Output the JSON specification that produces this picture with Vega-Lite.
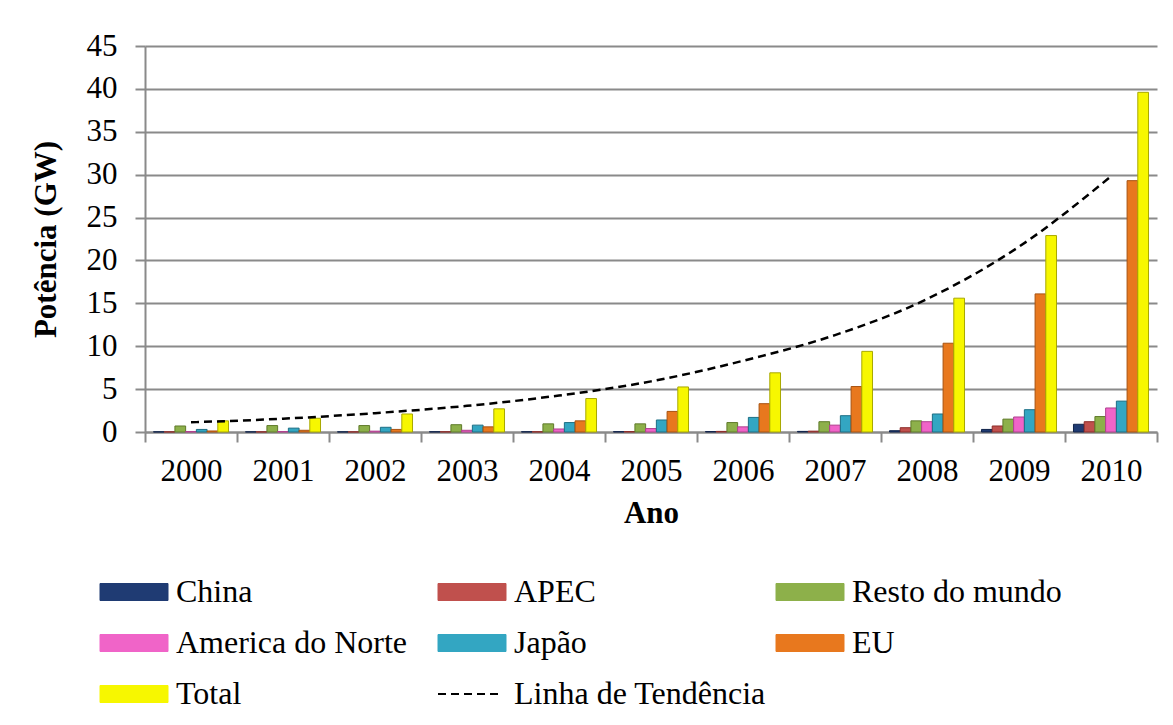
{
  "$schema": "https://vega.github.io/schema/vega-lite/v6.json",
  "width": 1012,
  "height": 386,
  "autosize": {"type": "none"},
  "padding": {"left": 145, "top": 46, "right": 16, "bottom": 293},
  "background": "white",
  "config": {
    "font": "Liberation Serif",
    "view": {"stroke": null},
    "style": {
      "guide-label": {"font": "Liberation Serif", "fill": "black"},
      "guide-title": {"font": "Liberation Serif", "fill": "black"}
    },
    "axis": {
      "labelFont": "Liberation Serif",
      "labelFontSize": 31,
      "labelColor": "black",
      "titleFont": "Liberation Serif",
      "titleFontSize": 31,
      "titleFontWeight": "bold",
      "titleColor": "black",
      "domainColor": "#8a8a8a",
      "domainWidth": 2,
      "tickColor": "#8a8a8a",
      "tickWidth": 2,
      "gridColor": "#8a8a8a",
      "gridWidth": 2
    }
  },
  "datasets": {
    "bars": [
      {"ano": "2000", "serie": "China", "valor": 0.02},
      {"ano": "2000", "serie": "APEC", "valor": 0.02},
      {"ano": "2000", "serie": "Resto do mundo", "valor": 0.7},
      {"ano": "2000", "serie": "America do Norte", "valor": 0.05},
      {"ano": "2000", "serie": "Japão", "valor": 0.3},
      {"ano": "2000", "serie": "EU", "valor": 0.12},
      {"ano": "2000", "serie": "Total", "valor": 1.3},
      {"ano": "2001", "serie": "China", "valor": 0.02},
      {"ano": "2001", "serie": "APEC", "valor": 0.02},
      {"ano": "2001", "serie": "Resto do mundo", "valor": 0.75},
      {"ano": "2001", "serie": "America do Norte", "valor": 0.05},
      {"ano": "2001", "serie": "Japão", "valor": 0.45},
      {"ano": "2001", "serie": "EU", "valor": 0.2},
      {"ano": "2001", "serie": "Total", "valor": 1.6},
      {"ano": "2002", "serie": "China", "valor": 0.02},
      {"ano": "2002", "serie": "APEC", "valor": 0.02},
      {"ano": "2002", "serie": "Resto do mundo", "valor": 0.75},
      {"ano": "2002", "serie": "America do Norte", "valor": 0.1},
      {"ano": "2002", "serie": "Japão", "valor": 0.55},
      {"ano": "2002", "serie": "EU", "valor": 0.3},
      {"ano": "2002", "serie": "Total", "valor": 2.1},
      {"ano": "2003", "serie": "China", "valor": 0.03},
      {"ano": "2003", "serie": "APEC", "valor": 0.03},
      {"ano": "2003", "serie": "Resto do mundo", "valor": 0.85},
      {"ano": "2003", "serie": "America do Norte", "valor": 0.2},
      {"ano": "2003", "serie": "Japão", "valor": 0.8},
      {"ano": "2003", "serie": "EU", "valor": 0.6},
      {"ano": "2003", "serie": "Total", "valor": 2.7},
      {"ano": "2004", "serie": "China", "valor": 0.03},
      {"ano": "2004", "serie": "APEC", "valor": 0.03},
      {"ano": "2004", "serie": "Resto do mundo", "valor": 0.95},
      {"ano": "2004", "serie": "America do Norte", "valor": 0.35},
      {"ano": "2004", "serie": "Japão", "valor": 1.1},
      {"ano": "2004", "serie": "EU", "valor": 1.3},
      {"ano": "2004", "serie": "Total", "valor": 3.9},
      {"ano": "2005", "serie": "China", "valor": 0.04},
      {"ano": "2005", "serie": "APEC", "valor": 0.05},
      {"ano": "2005", "serie": "Resto do mundo", "valor": 0.95},
      {"ano": "2005", "serie": "America do Norte", "valor": 0.4},
      {"ano": "2005", "serie": "Japão", "valor": 1.4},
      {"ano": "2005", "serie": "EU", "valor": 2.4},
      {"ano": "2005", "serie": "Total", "valor": 5.25},
      {"ano": "2006", "serie": "China", "valor": 0.05},
      {"ano": "2006", "serie": "APEC", "valor": 0.07},
      {"ano": "2006", "serie": "Resto do mundo", "valor": 1.1},
      {"ano": "2006", "serie": "America do Norte", "valor": 0.6},
      {"ano": "2006", "serie": "Japão", "valor": 1.7},
      {"ano": "2006", "serie": "EU", "valor": 3.3},
      {"ano": "2006", "serie": "Total", "valor": 6.9},
      {"ano": "2007", "serie": "China", "valor": 0.07},
      {"ano": "2007", "serie": "APEC", "valor": 0.1},
      {"ano": "2007", "serie": "Resto do mundo", "valor": 1.2},
      {"ano": "2007", "serie": "America do Norte", "valor": 0.8},
      {"ano": "2007", "serie": "Japão", "valor": 1.9},
      {"ano": "2007", "serie": "EU", "valor": 5.3},
      {"ano": "2007", "serie": "Total", "valor": 9.4},
      {"ano": "2008", "serie": "China", "valor": 0.15},
      {"ano": "2008", "serie": "APEC", "valor": 0.5},
      {"ano": "2008", "serie": "Resto do mundo", "valor": 1.3},
      {"ano": "2008", "serie": "America do Norte", "valor": 1.2},
      {"ano": "2008", "serie": "Japão", "valor": 2.1},
      {"ano": "2008", "serie": "EU", "valor": 10.35},
      {"ano": "2008", "serie": "Total", "valor": 15.6},
      {"ano": "2009", "serie": "China", "valor": 0.3},
      {"ano": "2009", "serie": "APEC", "valor": 0.7},
      {"ano": "2009", "serie": "Resto do mundo", "valor": 1.5},
      {"ano": "2009", "serie": "America do Norte", "valor": 1.75},
      {"ano": "2009", "serie": "Japão", "valor": 2.6},
      {"ano": "2009", "serie": "EU", "valor": 16.1},
      {"ano": "2009", "serie": "Total", "valor": 22.9},
      {"ano": "2010", "serie": "China", "valor": 0.9},
      {"ano": "2010", "serie": "APEC", "valor": 1.2},
      {"ano": "2010", "serie": "Resto do mundo", "valor": 1.8},
      {"ano": "2010", "serie": "America do Norte", "valor": 2.8},
      {"ano": "2010", "serie": "Japão", "valor": 3.6},
      {"ano": "2010", "serie": "EU", "valor": 29.3},
      {"ano": "2010", "serie": "Total", "valor": 39.6}
    ],
    "trend": [
      {"ano": "2000", "serie": "Linha de Tendência", "valor": 1.13},
      {"ano": "2001", "serie": "Linha de Tendência", "valor": 1.55},
      {"ano": "2002", "serie": "Linha de Tendência", "valor": 2.2},
      {"ano": "2003", "serie": "Linha de Tendência", "valor": 3.05},
      {"ano": "2004", "serie": "Linha de Tendência", "valor": 4.25},
      {"ano": "2005", "serie": "Linha de Tendência", "valor": 5.9},
      {"ano": "2006", "serie": "Linha de Tendência", "valor": 8.3},
      {"ano": "2007", "serie": "Linha de Tendência", "valor": 11.3},
      {"ano": "2008", "serie": "Linha de Tendência", "valor": 15.5},
      {"ano": "2009", "serie": "Linha de Tendência", "valor": 21.6},
      {"ano": "2010", "serie": "Linha de Tendência", "valor": 29.8}
    ]
  },
  "layer": [
    {
      "data": {"name": "bars"},
      "mark": {"type": "bar", "strokeWidth": 1},
      "encoding": {
        "x": {
          "field": "ano",
          "type": "nominal",
          "scale": {"paddingInner": 0, "paddingOuter": 0},
          "axis": {
            "title": "Ano",
            "labelAngle": 0,
            "labelFont": "Liberation Serif",
            "titleFont": "Liberation Serif",
            "labelFontSize": 31,
            "titleFontSize": 31,
            "tickBand": "extent",
            "tickSize": 10,
            "labelPadding": 14,
            "titlePadding": 12
          }
        },
        "xOffset": {
          "field": "serie",
          "type": "nominal",
          "scale": {
            "domain": ["China", "APEC", "Resto do mundo", "America do Norte", "Japão", "EU", "Total"],
            "paddingInner": 0,
            "paddingOuter": 0.79
          }
        },
        "y": {
          "field": "valor",
          "type": "quantitative",
          "scale": {"domain": [0, 45], "nice": false},
          "axis": {
            "title": "Potência (GW)",
            "labelFont": "Liberation Serif",
            "titleFont": "Liberation Serif",
            "labelFontSize": 31,
            "titleFontSize": 31,
            "values": [0, 5, 10, 15, 20, 25, 30, 35, 40, 45],
            "grid": true,
            "tickSize": 10,
            "labelPadding": 18,
            "titlePadding": 24
          }
        },
        "color": {
          "field": "serie",
          "type": "nominal",
          "scale": {
            "domain": ["China", "APEC", "Resto do mundo", "America do Norte", "Japão", "EU", "Total", "Linha de Tendência"],
            "range": ["#1f3b73", "#c0504d", "#8db04a", "#f064c8", "#33a6c2", "#e8781e", "#f7f700", "#000000"]
          },
          "legend": {
            "title": null,
            "orient": "none",
            "direction": "horizontal",
            "legendX": -27,
            "legendY": 530,
            "columns": 3,
            "gridAlign": "all",
            "columnPadding": 6,
            "rowPadding": 19,
            "padding": 0,
            "labelFont": "Liberation Serif",
            "labelFontSize": 32,
            "labelColor": "black",
            "labelLimit": 400,
            "symbolSize": 289,
            "labelOffset": 26,
            "encode": {
              "symbols": {
                "update": {
                  "shape": {"signal": "datum.value === 'Linha de Tendência' ? 'M-4,0H3.1' : 'M-4,-1H4V1H-4Z'"},
                  "strokeDash": {"signal": "datum.value === 'Linha de Tendência' ? [8,5] : []"},
                  "fill": {"signal": "datum.value === 'Linha de Tendência' ? 'transparent' : scale('color', datum.value)"},
                  "stroke": {"signal": "datum.value === 'Linha de Tendência' ? 'black' : scale('stroke', datum.value)"},
                  "strokeWidth": {"signal": "datum.value === 'Linha de Tendência' ? 2 : 1"},
                  "opacity": {"value": 1},
                  "fillOpacity": {"value": 1}
                }
              }
            }
          }
        },
        "stroke": {
          "field": "serie",
          "type": "nominal",
          "scale": {
            "domain": ["China", "APEC", "Resto do mundo", "America do Norte", "Japão", "EU", "Total"],
            "range": ["#10234a", "#8c2d2a", "#5f7a2a", "#b0408e", "#1d6f85", "#a85210", "#a8a800"]
          },
          "legend": null
        }
      }
    },
    {
      "data": {"name": "trend"},
      "mark": {"type": "line", "strokeDash": [8, 5], "strokeWidth": 2.5, "interpolate": "monotone"},
      "encoding": {
        "x": {"field": "ano", "type": "nominal"},
        "y": {"field": "valor", "type": "quantitative"},
        "color": {"field": "serie", "type": "nominal"}
      }
    }
  ]
}
